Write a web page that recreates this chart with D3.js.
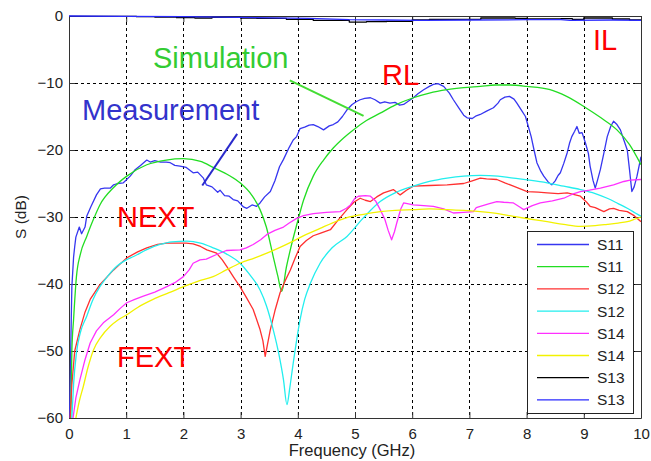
<!DOCTYPE html>
<html>
<head>
<meta charset="utf-8">
<script src="https://cdn.jsdelivr.net/npm/d3@7"></script>
<style>
html,body{margin:0;padding:0;background:#fff;}
svg{display:block;}
text{font-family:"Liberation Sans",Arial,sans-serif;}
</style>
</head>
<body>
<svg id="chart" width="651" height="461"></svg>
<script>
// ---------- data ----------
const xTicks = [0,1,2,3,4,5,6,7,8,9,10];
const yTicks = [0,-10,-20,-30,-40,-50,-60];
const legendLabels = ["S11","S11","S12","S12","S14","S14","S13","S13"];

const s11MeasF = [0.01,0.02,0.04,0.05,0.08,0.1,0.12,0.18,0.22,0.28,0.31,0.38,0.48,0.55,0.62,0.72,0.78,0.85,0.95,1.07,1.15,1.25,1.36,1.42,1.5,1.6,1.7,1.77,1.85,1.94,2.05,2.17,2.25,2.35,2.4,2.5,2.6,2.64,2.72,2.8,2.87,2.95,3.05,3.11,3.2,3.28,3.34,3.42,3.52,3.6,3.68,3.75,3.85,3.92,3.98,4.04,4.12,4.2,4.27,4.35,4.45,4.55,4.62,4.7,4.78,4.86,4.95,5.02,5.09,5.17,5.27,5.35,5.44,5.52,5.61,5.7,5.78,5.85,5.95,6.02,6.1,6.2,6.3,6.37,6.45,6.55,6.65,6.72,6.82,6.9,6.96,7.05,7.12,7.19,7.3,7.42,7.5,7.54,7.62,7.7,7.78,7.83,7.92,7.98,8.03,8.08,8.13,8.18,8.25,8.3,8.38,8.44,8.5,8.55,8.59,8.65,8.71,8.75,8.79,8.84,8.88,8.92,8.97,9.03,9.08,9.11,9.16,9.2,9.24,9.29,9.35,9.41,9.47,9.52,9.58,9.64,9.7,9.76,9.8,9.84,9.88,9.93,10];
const s11MeasDb = [-60,-55,-45,-40.4,-36,-34.4,-33,-31.5,-32.5,-31.5,-29.9,-28.5,-26.7,-25.8,-25.7,-25.7,-25.2,-25.0,-24.9,-23.9,-23.0,-22.3,-21.5,-21.8,-21.6,-21.8,-21.8,-21.9,-22.3,-22.4,-22.6,-23.4,-23.3,-24.2,-25.2,-25.5,-26.3,-26.0,-26.8,-26.9,-27.4,-27.6,-28.5,-28.7,-28.2,-28.4,-27.9,-27.0,-26.2,-24.6,-22.5,-21.4,-19.6,-18.5,-18.0,-16.8,-16.6,-16.3,-16.2,-16.5,-17.0,-16.4,-16.2,-15.8,-15.0,-14.0,-13.2,-12.8,-12.5,-12.3,-12.2,-12.5,-13.0,-12.8,-13.0,-12.9,-13.3,-13.2,-12.6,-12.2,-11.6,-11.0,-10.5,-10.2,-10.1,-10.5,-11.5,-12.5,-13.8,-14.8,-15.2,-15.3,-14.9,-14.7,-14.2,-13.7,-13.0,-12.5,-12.1,-12.0,-12.4,-13.0,-14.2,-15.0,-16.5,-18.0,-20.0,-21.9,-23.2,-23.9,-24.8,-25.2,-24.6,-23.8,-23.4,-22.0,-20.4,-19.0,-18.0,-17.2,-16.5,-17.5,-17.4,-19.0,-20.5,-22.4,-24.5,-25.7,-24.5,-22.9,-20.5,-18.0,-16.5,-15.7,-16.2,-17.0,-18.5,-20.0,-23.0,-26.2,-25.5,-23.9,-21.0];

const s11SimF = [0.03,0.05,0.08,0.13,0.2,0.31,0.42,0.54,0.78,1.01,1.36,1.7,2.0,2.3,2.52,2.8,2.99,3.2,3.34,3.45,3.57,3.65,3.72,3.8,3.88,3.98,4.1,4.27,4.45,4.62,4.8,4.97,5.2,5.44,5.7,6.02,6.3,6.61,6.9,7.19,7.45,7.71,8.0,8.41,8.7,9.0,9.3,9.58,9.8,10];
const s11SimDb = [-60,-50,-45.3,-38.9,-35.5,-32.9,-30.5,-28.2,-25.6,-23.9,-22.2,-21.5,-21.3,-21.7,-22.6,-23.8,-24.9,-26.8,-28.9,-31.5,-35.9,-38.8,-41.1,-37.5,-34.5,-31.2,-27.5,-23.9,-21.5,-19.7,-18.2,-17.0,-15.6,-14.5,-13.3,-12.2,-11.5,-11.0,-10.7,-10.5,-10.3,-10.3,-10.5,-11.0,-12.0,-13.5,-15.2,-17.0,-19.2,-22.2];

const s12MeasF = [0.02,0.05,0.1,0.19,0.28,0.37,0.54,0.78,1.01,1.2,1.36,1.55,1.71,1.9,2.05,2.17,2.3,2.41,2.58,2.68,2.76,2.88,2.99,3.1,3.22,3.34,3.39,3.43,3.47,3.52,3.6,3.69,3.78,3.87,3.95,4.04,4.15,4.27,4.4,4.57,4.7,4.86,4.98,5.09,5.18,5.27,5.38,5.5,5.67,5.79,5.9,6.02,6.3,6.61,6.9,7.05,7.19,7.3,7.48,7.62,7.77,8.01,8.2,8.36,8.55,8.71,8.94,9.05,9.11,9.2,9.35,9.45,9.52,9.62,9.76,9.88,10];
const s12MeasDb = [-60,-55,-50,-46.8,-44.2,-42.3,-40.1,-37.9,-36.1,-35.2,-34.6,-34.1,-33.9,-33.9,-33.9,-34.0,-34.4,-34.9,-35.4,-36.4,-37.4,-39.0,-40.4,-42.0,-43.8,-46.8,-48.5,-50.8,-49.0,-46.8,-44.0,-41.3,-39.5,-37.9,-36.2,-34.4,-33.5,-32.8,-32.4,-31.9,-30.5,-28.9,-27.8,-27.2,-27.5,-27.7,-27.0,-26.4,-25.9,-26.7,-26.0,-25.4,-25.3,-25.2,-25.0,-24.6,-24.2,-24.3,-24.4,-24.9,-25.4,-26.2,-26.3,-26.4,-26.5,-26.4,-26.9,-27.8,-28.4,-28.6,-29.2,-28.8,-28.7,-29.0,-29.2,-29.8,-30.7];

const s12SimF = [0.05,0.08,0.13,0.2,0.31,0.42,0.54,0.68,0.83,1.0,1.13,1.35,1.59,1.8,2.06,2.3,2.52,2.75,2.99,3.15,3.34,3.45,3.57,3.67,3.75,3.81,3.86,3.92,4.04,4.12,4.22,4.39,4.6,4.86,5.15,5.44,5.7,6.02,6.3,6.61,6.9,7.19,7.5,7.77,8.05,8.36,8.65,8.94,9.2,9.41,9.6,9.76,9.9,10];
const s12SimDb = [-60,-55,-50.3,-47.2,-44.8,-42.3,-40.4,-38.8,-37.4,-36.4,-35.9,-34.9,-34.1,-33.7,-33.6,-33.9,-34.6,-35.5,-36.9,-38.5,-40.9,-43.2,-46.8,-50.5,-54.3,-58.0,-55.5,-51.8,-45.3,-42.3,-39.9,-36.9,-34.6,-32.9,-30.1,-27.7,-26.4,-25.4,-24.7,-24.2,-23.9,-23.8,-23.9,-24.2,-24.5,-24.9,-25.4,-25.9,-26.5,-27.2,-28.0,-28.7,-29.4,-29.9];

const s14MeasF = [0.07,0.12,0.19,0.28,0.37,0.48,0.6,0.78,0.9,1.01,1.15,1.3,1.5,1.71,1.85,2.0,2.1,2.17,2.29,2.4,2.58,2.75,2.99,3.1,3.22,3.35,3.46,3.6,3.75,3.85,3.98,4.1,4.27,4.5,4.74,4.85,4.92,5.0,5.06,5.18,5.27,5.36,5.44,5.52,5.58,5.64,5.69,5.73,5.8,5.85,6.02,6.2,6.37,6.55,6.72,6.9,7.07,7.12,7.19,7.35,7.48,7.6,7.77,7.88,7.95,8.1,8.24,8.45,8.65,8.8,8.94,9.1,9.29,9.52,9.7,9.81,10];
const s14MeasDb = [-60,-57,-54.3,-51.3,-48.8,-47.0,-45.8,-44.6,-43.6,-42.8,-42.3,-41.8,-41.2,-40.4,-39.8,-38.9,-37.9,-36.9,-36.4,-36.3,-35.6,-35.0,-34.9,-34.6,-34.1,-33.4,-32.6,-32.0,-31.5,-30.9,-30.2,-29.8,-29.5,-29.3,-29.2,-28.7,-28.2,-27.2,-26.9,-26.8,-26.9,-27.6,-28.9,-30.3,-32.0,-33.4,-32.2,-30.9,-28.8,-27.9,-28.2,-28.3,-28.4,-28.8,-29.4,-29.3,-29.2,-28.6,-28.4,-28.0,-27.7,-27.8,-27.9,-28.5,-28.9,-28.3,-27.9,-27.6,-27.2,-26.6,-26.2,-26.0,-25.7,-25.2,-24.7,-24.5,-24.4];

const s14SimF = [0.12,0.18,0.25,0.33,0.43,0.55,0.72,0.85,1.01,1.2,1.47,1.75,2.0,2.25,2.52,2.75,2.99,3.25,3.46,3.7,3.92,4.15,4.39,4.6,4.86,5.15,5.44,5.7,6.02,6.3,6.61,6.9,7.19,7.5,7.77,8.05,8.36,8.65,8.94,9.2,9.41,9.6,9.76,9.9,10];
const s14SimDb = [-60,-57.5,-55.3,-52.5,-49.8,-48.0,-46.3,-45.4,-44.6,-43.5,-42.3,-41.3,-40.4,-39.6,-38.9,-37.9,-36.9,-36.1,-35.4,-34.5,-33.6,-32.6,-31.7,-30.9,-30.1,-29.6,-29.2,-29.0,-28.9,-28.8,-28.9,-29.0,-29.2,-29.5,-29.9,-30.3,-30.7,-31.1,-31.4,-31.3,-31.1,-30.9,-30.7,-30.3,-30.0];

const s13SimF = [0,0.6,1.18,1.5,1.88,2.2,2.5,3.0,3.28,3.8,4.27,4.9,5.2,5.55,6.0,6.3,7.2,7.8,8.0,8.6,8.8,9.0,9.5,9.8,10];
const s13SimDb = [-0.05,-0.05,-0.1,-0.15,-0.25,-0.3,-0.2,-0.3,-0.35,-0.5,-0.65,-0.9,-0.85,-0.8,-0.6,-0.5,-0.3,-0.35,-0.45,-0.4,-0.5,-0.3,-0.45,-0.6,-0.7];

const s13MeasF = [0,1,2,3,4.2,4.9,5.5,6.14,7,8,8.6,8.76,9.5,10];
const s13MeasDb = [0,-0.05,-0.1,-0.2,-0.35,-0.55,-0.6,-0.65,-0.6,-0.55,-0.55,-0.65,-0.6,-0.65];

// ---------- layout ----------
const svg = d3.select("#chart");
const L = 69, R = 641, T = 16, B = 418;
const x = d3.scaleLinear().domain([0,10]).range([L,R]);
const y = d3.scaleLinear().domain([-60,0]).range([B,T]);

const series = [
  {f:s11MeasF, v:s11MeasDb, color:"#3636f0", curve:d3.curveLinear},
  {f:s11SimF,  v:s11SimDb,  color:"#22dd22", curve:d3.curveMonotoneX},
  {f:s12MeasF, v:s12MeasDb, color:"#ff3030", curve:d3.curveLinear},
  {f:s12SimF,  v:s12SimDb,  color:"#22eeee", curve:d3.curveMonotoneX},
  {f:s14MeasF, v:s14MeasDb, color:"#ff30ff", curve:d3.curveLinear},
  {f:s14SimF,  v:s14SimDb,  color:"#f2f200", curve:d3.curveMonotoneX},
  {f:s13SimF,  v:s13SimDb,  color:"#000000", curve:d3.curveStepAfter},
  {f:s13MeasF, v:s13MeasDb, color:"#2a2aff", curve:d3.curveLinear}
];

svg.append("defs").append("clipPath").attr("id","clip")
  .append("rect").attr("x",L).attr("y",T-1).attr("width",R-L).attr("height",B-T+1);

// grid
const grid = svg.append("g");
grid.selectAll("line.vx").data(xTicks.filter(d=>d>0&&d<10)).join("line")
  .attr("x1",d=>Math.round(x(d))+0.5).attr("x2",d=>Math.round(x(d))+0.5)
  .attr("y1",T).attr("y2",B)
  .attr("stroke","#000").attr("stroke-width",1).attr("stroke-dasharray","3,3");
grid.selectAll("line.hy").data(yTicks.filter(d=>d>-60&&d<0)).join("line")
  .attr("y1",d=>Math.round(y(d))+0.5).attr("y2",d=>Math.round(y(d))+0.5)
  .attr("x1",L).attr("x2",R)
  .attr("stroke","#000").attr("stroke-width",1).attr("stroke-dasharray","3,3");

// axes
const xAxis = svg.append("g").attr("transform",`translate(0,${B})`)
  .call(d3.axisBottom(x).tickValues(xTicks).tickFormat(d3.format("d")).tickSizeInner(-6).tickSizeOuter(0).tickPadding(10));
const yAxis = svg.append("g").attr("transform",`translate(${L},0)`)
  .call(d3.axisLeft(y).tickValues(yTicks).tickFormat(d3.format("d")).tickSizeInner(-6).tickSizeOuter(0).tickPadding(6));
const xTop = svg.append("g").attr("transform",`translate(0,${T})`)
  .call(d3.axisTop(x).tickValues(xTicks).tickFormat("").tickSizeInner(-6).tickSizeOuter(0));
const yRight = svg.append("g").attr("transform",`translate(${R},0)`)
  .call(d3.axisRight(y).tickValues(yTicks).tickFormat("").tickSizeInner(-6).tickSizeOuter(0));
[xAxis,yAxis,xTop,yRight].forEach(g=>{
  g.selectAll("path.domain").attr("stroke","#333").attr("stroke-width",1);
  g.selectAll(".tick line").attr("stroke","#333");
  g.selectAll(".tick text").attr("font-family","'Liberation Sans',Arial,sans-serif")
    .attr("font-size","15px").attr("fill","#222");
});

// lines
const plot = svg.append("g").attr("clip-path","url(#clip)");
series.forEach(s=>{
  const pts = s.f.map((f,i)=>[f,s.v[i]]);
  const line = d3.line().x(d=>x(d[0])).y(d=>y(d[1])).curve(s.curve);
  plot.append("path").attr("d",line(pts)).attr("fill","none")
    .attr("stroke",s.color).attr("stroke-width",1.3).attr("stroke-linejoin","round");
});

// axis labels
svg.append("text").attr("x",352).attr("y",456).attr("text-anchor","middle")
  .attr("font-size","16.5px").attr("fill","#222").text("Frequency (GHz)");
svg.append("text").attr("transform",`translate(26,${(T+B)/2}) rotate(-90)`)
  .attr("text-anchor","middle").attr("font-size","15.5px").attr("fill","#222").text("S (dB)");

// annotations
const annoFont = "29px";
svg.append("text").attr("x",153).attr("y",68).attr("font-size",annoFont).attr("fill","#33cc33").text("Simulation");
svg.append("text").attr("x",82).attr("y",120).attr("font-size",annoFont).attr("fill","#3333cc").text("Measurement");
svg.append("text").attr("x",382).attr("y",85).attr("font-size",annoFont).attr("fill","#ff0000").text("RL");
svg.append("text").attr("x",593).attr("y",50).attr("font-size",annoFont).attr("fill","#ff0000").text("IL");
svg.append("text").attr("x",117).attr("y",227).attr("font-size",annoFont).attr("fill","#ff0000").text("NEXT");
svg.append("text").attr("x",117).attr("y",367).attr("font-size",annoFont).attr("fill","#ff0000").text("FEXT");
svg.append("line").attr("x1",x(3.86)).attr("y1",y(-9.6)).attr("x2",x(5.15)).attr("y2",y(-14.9))
  .attr("stroke","#44dd33").attr("stroke-width",2);
svg.append("line").attr("x1",x(2.94)).attr("y1",y(-17.6)).attr("x2",x(2.33)).attr("y2",y(-25.3))
  .attr("stroke","#2a2acc").attr("stroke-width",2);

// legend
const lg = svg.append("g");
lg.append("rect").attr("x",527.5).attr("y",231.5).attr("width",106).attr("height",182)
  .attr("fill","#fff").attr("stroke","#222").attr("stroke-width",1);
const rowY = i => 244.5 + i*22.2;
lg.selectAll("line.lg").data(series).join("line")
  .attr("x1",537).attr("x2",589).attr("y1",(d,i)=>rowY(i)).attr("y2",(d,i)=>rowY(i))
  .attr("stroke",d=>d.color).attr("stroke-width",1.3);
lg.selectAll("text.lg").data(legendLabels).join("text")
  .attr("x",597).attr("y",(d,i)=>rowY(i)+5.5).attr("font-size","15.5px").attr("fill","#222").text(d=>d);
</script>
</body>
</html>
